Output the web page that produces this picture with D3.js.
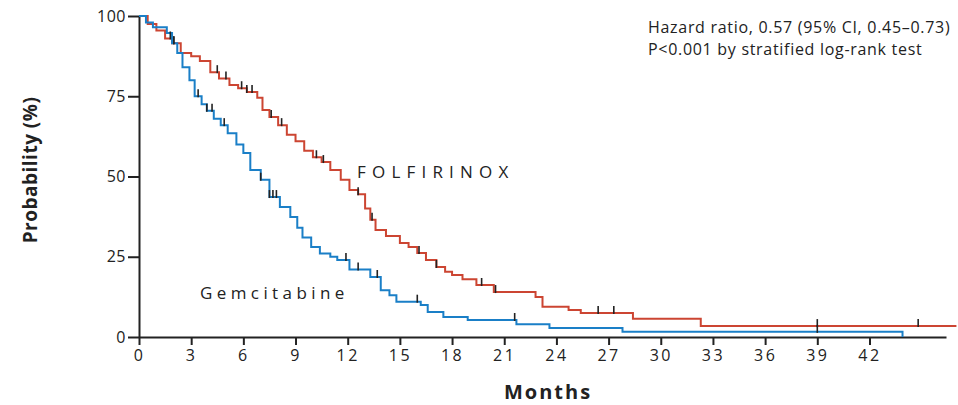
<!DOCTYPE html>
<html>
<head>
<meta charset="utf-8">
<script src="https://cdn.jsdelivr.net/npm/d3@7"></script>
<style>
  body { margin: 0; background: #fff; }
  text { font-family: "Open Sans", "DejaVu Sans", sans-serif; fill: #222; }
</style>
</head>
<body>
<svg id="chart"></svg>
<script>
// Kaplan-Meier steps (months, % surviving)
const folfTime = [0, 0.5, 1.0, 1.5, 1.9, 2.4, 3.0, 3.5, 4.1, 4.6, 5.2, 5.7, 6.2, 6.8, 7.1, 7.5, 8.0, 8.5, 9.0, 9.5, 10.0, 10.5, 11.0, 11.6, 12.1, 12.6, 13.0, 13.3, 13.6, 14.2, 15.0, 15.5, 16.0, 16.5, 17.1, 17.6, 18.0, 18.6, 19.4, 20.4, 22.8, 23.2, 24.7, 25.4, 28.4, 32.3, 47];
const folfSurv = [100, 97.5, 95.5, 93, 91.5, 88.5, 87.5, 86, 82.5, 80.5, 78.5, 77.5, 76.3, 74.5, 70.7, 68.5, 66, 63, 61, 58, 56, 54.5, 52, 49, 45.8, 44.5, 40, 36.5, 33.3, 31.5, 29.3, 28, 26.2, 24, 21.8, 20.3, 19.3, 18, 16.2, 14, 12.5, 9.4, 8.4, 7.5, 5.7, 3.4, 3.4];
const folfCensor = [1.8, 2.0, 4.5, 5.0, 5.9, 6.2, 6.5, 7.6, 8.2, 10.2, 10.6, 12.6, 13.4, 16.1, 17.1, 19.7, 20.5, 26.4, 27.3, 39, 44.8];

const gemTime = [0, 0.4, 0.8, 1.6, 1.9, 2.2, 2.5, 2.9, 3.2, 3.6, 3.9, 4.3, 4.7, 5.1, 5.6, 6.0, 6.4, 7.0, 7.5, 8.1, 8.7, 9.1, 9.4, 9.9, 10.4, 11.0, 11.4, 12.1, 13.3, 13.9, 14.4, 14.8, 16.2, 16.6, 17.5, 18.9, 21.7, 23.6, 27.8, 43.9];
const gemSurv = [100, 98, 96.5, 94.7, 91.5, 88.5, 84, 80, 75, 72.5, 70.5, 68, 66, 63.5, 60, 57.3, 52, 49, 43.6, 40.5, 37.4, 34, 31, 28, 26, 25, 24, 21, 18.7, 14.6, 13, 11, 10, 7.8, 6.2, 5.3, 4, 2.8, 1.6, 0];
const gemCensor = [2.0, 3.4, 3.9, 4.2, 4.9, 7.0, 7.5, 7.7, 7.9, 11.9, 12.6, 13.7, 16.0, 21.6, 39];

const xTicks = [0, 3, 6, 9, 12, 15, 18, 21, 24, 27, 30, 33, 36, 39, 42];
const yTicks = [0, 25, 50, 75, 100];
const noteLines = ["Hazard ratio, 0.57 (95% CI, 0.45\u20130.73)", "P<0.001 by stratified log-rank test"];

const width = 958, height = 405;
const svg = d3.select('#chart').attr('width', width).attr('height', height);

const x = d3.scaleLinear().domain([0, 46.4]).range([139, 946]);
const y = d3.scaleLinear().domain([0, 100]).range([337, 16]);

const red = '#cc4532', blue = '#1a7fc7';

// step value at month t
const stepAt = (times, surv, t) => {
  let v = surv[0];
  times.forEach((tt, i) => { if (tt <= t) v = surv[i]; });
  return v;
};

// axes
const xAxis = svg.append('g')
  .attr('transform', `translate(0, ${y(0)})`)
  .call(d3.axisBottom(x).tickValues(xTicks).tickSize(8).tickPadding(5).tickSizeOuter(0));
const yAxis = svg.append('g')
  .attr('transform', `translate(${x(0)}, 0)`)
  .call(d3.axisLeft(y).tickValues(yTicks).tickSize(11).tickPadding(2).tickSizeOuter(0));

[xAxis, yAxis].forEach(a => {
  a.select('.domain').attr('stroke', '#222').attr('stroke-width', 2);
  a.selectAll('.tick line').attr('stroke', '#222').attr('stroke-width', 2);
  a.selectAll('.tick text').attr('font-size', '16px').attr('fill', '#222')
    .attr('font-family', '"Open Sans", sans-serif');
});
xAxis.selectAll('.tick text').attr('letter-spacing', '2.5px');
yAxis.selectAll('.tick text').attr('letter-spacing', '0.5px');

// curves
const line = d3.line().x(d => x(d[0])).y(d => y(d[1])).curve(d3.curveStepAfter);

const series = [
  { times: folfTime, surv: folfSurv, censor: folfCensor, color: red },
  { times: gemTime, surv: gemSurv, censor: gemCensor, color: blue }
];

series.forEach(s => {
  svg.append('path')
    .datum(s.times.map((t, i) => [t, s.surv[i]]))
    .attr('d', line)
    .attr('fill', 'none')
    .attr('stroke', s.color)
    .attr('stroke-width', 2);
});

// censor marks
series.forEach(s => {
  s.censor.forEach(c => {
    const yy = y(stepAt(s.times, s.surv, c));
    svg.append('line')
      .attr('x1', x(c)).attr('x2', x(c))
      .attr('y1', yy - 7).attr('y2', yy + 1)
      .attr('stroke', '#222')
      .attr('stroke-width', 1.6);
  });
});

// labels
svg.append('text')
  .attr('x', 357).attr('y', 178)
  .attr('font-size', '17px')
  .attr('letter-spacing', '6.2px')
  .text('FOLFIRINOX');

svg.append('text')
  .attr('x', 200).attr('y', 299)
  .attr('font-size', '17px')
  .attr('letter-spacing', '4.4px')
  .text('Gemcitabine');

noteLines.forEach((t, i) => {
  svg.append('text')
    .attr('x', 648).attr('y', 33 + i * 22)
    .attr('font-size', '16px')
    .attr('letter-spacing', '0.7px')
    .text(t);
});

// axis titles
svg.append('text')
  .attr('x', 548).attr('y', 399)
  .attr('text-anchor', 'middle')
  .attr('font-size', '20px')
  .attr('font-weight', 'bold')
  .attr('letter-spacing', '2px')
  .text('Months');

svg.append('text')
  .attr('transform', `translate(37, 170) rotate(-90)`)
  .attr('text-anchor', 'middle')
  .attr('font-size', '19px')
  .attr('font-weight', 'bold')
  .attr('letter-spacing', '0.5px')
  .text('Probability (%)');
</script>
</body>
</html>
